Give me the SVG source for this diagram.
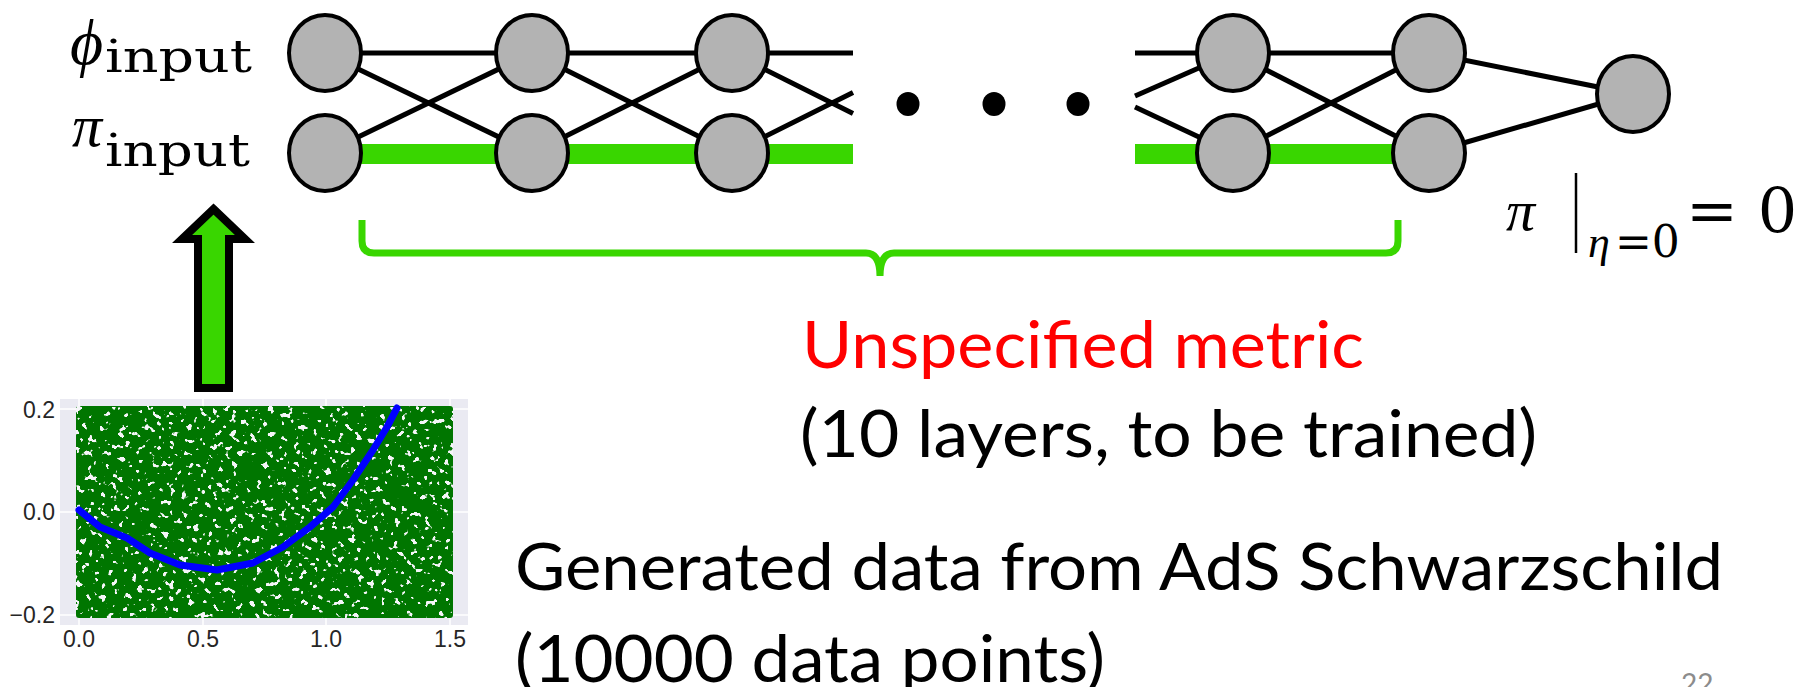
<svg xmlns="http://www.w3.org/2000/svg" width="1798" height="687" viewBox="0 0 1798 687">
<style>
.node{fill:#b3b3b3;stroke:#000;stroke-width:4}
.ln{stroke:#000;stroke-width:5;fill:none}
.gr{stroke:#39d600;stroke-width:20;fill:none}
.math{font-family:"DejaVu Serif","Liberation Serif",serif;fill:#000}
.greek{font-family:"Liberation Serif","DejaVu Serif",serif;font-style:italic;fill:#000}
.cal{font-family:Lato,"Open Sans",sans-serif;font-size:65px}
.tick{font-family:"Liberation Sans",Arial,sans-serif;font-size:23px;fill:#262626}
</style>
<defs>
<filter id="speck" x="0" y="0" width="1" height="1" filterUnits="objectBoundingBox">
<feTurbulence type="fractalNoise" baseFrequency="0.16" numOctaves="2" seed="7"/>
<feColorMatrix type="matrix" values="0 0 0 0 0.918 0 0 0 0 0.918 0 0 0 0 0.949 -22 0 0 0 8.1"/>
</filter>
</defs>
<rect width="1798" height="687" fill="#fff"/>

<g id="connectors">
<line class="ln" x1="325" y1="53" x2="853" y2="53"/>
<line class="ln" x1="1135" y1="53" x2="1429" y2="53"/>
<line class="ln" x1="325" y1="53" x2="532" y2="153"/>
<line class="ln" x1="325" y1="153" x2="532" y2="53"/>
<line class="ln" x1="532" y1="53" x2="732" y2="153"/>
<line class="ln" x1="532" y1="153" x2="732" y2="53"/>
<line class="ln" x1="732" y1="53" x2="853" y2="113.5"/>
<line class="ln" x1="732" y1="153" x2="853" y2="92.5"/>
<line class="ln" x1="1135" y1="96" x2="1233" y2="53"/>
<line class="ln" x1="1135" y1="107" x2="1233" y2="153"/>
<line class="ln" x1="1233" y1="53" x2="1429" y2="153"/>
<line class="ln" x1="1233" y1="153" x2="1429" y2="53"/>
<line class="ln" x1="1429" y1="53" x2="1633" y2="94" stroke-width="6"/>
<line class="ln" x1="1429" y1="153" x2="1633" y2="94" stroke-width="6"/>
<line class="gr" x1="325" y1="154" x2="853" y2="154"/>
<line class="gr" x1="1135" y1="154" x2="1429" y2="154"/>
</g>

<g id="nodes">
<ellipse id="n1a" class="node" cx="325" cy="53" rx="36" ry="38"/>
<ellipse id="n1b" class="node" cx="325" cy="153" rx="36" ry="38"/>
<ellipse id="n2a" class="node" cx="532" cy="53" rx="36" ry="38"/>
<ellipse id="n2b" class="node" cx="532" cy="153" rx="36" ry="38"/>
<ellipse id="n3a" class="node" cx="732" cy="53" rx="36" ry="38"/>
<ellipse id="n3b" class="node" cx="732" cy="153" rx="36" ry="38"/>
<ellipse id="n4a" class="node" cx="1233" cy="53" rx="36" ry="38"/>
<ellipse id="n4b" class="node" cx="1233" cy="153" rx="36" ry="38"/>
<ellipse id="n5a" class="node" cx="1429" cy="53" rx="36" ry="38"/>
<ellipse id="n5b" class="node" cx="1429" cy="153" rx="36" ry="38"/>
<ellipse id="out" class="node" cx="1633" cy="94" rx="36" ry="38"/>
</g>

<g id="ellipsis" fill="#000">
<ellipse cx="908" cy="104" rx="11.5" ry="12"/>
<ellipse cx="994" cy="104" rx="11.5" ry="12"/>
<ellipse cx="1078" cy="104" rx="11.5" ry="12"/>
</g>

<g id="labels">
<text class="greek" x="70" y="64" font-size="64">ϕ</text>
<text class="math" x="105" y="72" font-size="45" textLength="147" lengthAdjust="spacingAndGlyphs">input</text>
<text class="greek" x="72" y="146" font-size="60">π</text>
<text class="math" x="105" y="166" font-size="45" textLength="145" lengthAdjust="spacingAndGlyphs">input</text>
</g>

<g id="boundary">
<text class="greek" x="1506" y="230" font-size="58">π</text>
<line x1="1576" y1="173" x2="1576" y2="253" stroke="#000" stroke-width="2.5"/>
<text class="greek" x="1588" y="257" font-size="44">η</text>
<text class="math" x="1615" y="257" font-size="44">=0</text>
<text class="math" x="1686" y="232" font-size="62">= 0</text>
</g>

<path id="bracket" d="M362,220 L362,241 Q362,253 374,253 L866,253 Q880,253 880,276 Q880,253 894,253 L1386,253 Q1398,253 1398,241 L1398,220" fill="none" stroke="#39d600" stroke-width="7"/>

<path id="arrow" d="M213.5,209 L245,239 L229,239 L229,388 L198,388 L198,239 L182,239 Z" fill="#39d600" stroke="#000" stroke-width="8"/>

<g id="plot">
<rect x="60" y="399" width="408" height="226" fill="#eaeaf2"/>
<g stroke="#fff" stroke-width="1.5">
<line x1="79" y1="399" x2="79" y2="625"/>
<line x1="203" y1="399" x2="203" y2="625"/>
<line x1="326" y1="399" x2="326" y2="625"/>
<line x1="450" y1="399" x2="450" y2="625"/>
<line x1="60" y1="409" x2="468" y2="409"/>
<line x1="60" y1="512" x2="468" y2="512"/>
<line x1="60" y1="615" x2="468" y2="615"/>
</g>
<rect x="76" y="406" width="377" height="212" rx="3" fill="#007600"/>
<rect x="76" y="406" width="377" height="212" fill="#eaeaf2" filter="url(#speck)"/>
<polyline points="79,510 100,527 127,538 150,553 180,565 217,570 253,563 283,547 310,527 333,507 353,480 373,450 387,427 397,408" fill="none" stroke="#0000ff" stroke-width="7" stroke-linejoin="round" stroke-linecap="round"/>
<text class="tick" x="55" y="418" text-anchor="end">0.2</text>
<text class="tick" x="55" y="520" text-anchor="end">0.0</text>
<text class="tick" x="55" y="623" text-anchor="end">−0.2</text>
<text class="tick" x="79" y="647" text-anchor="middle">0.0</text>
<text class="tick" x="203" y="647" text-anchor="middle">0.5</text>
<text class="tick" x="326" y="647" text-anchor="middle">1.0</text>
<text class="tick" x="450" y="647" text-anchor="middle">1.5</text>
</g>

<g id="captions">
<text class="cal" x="802" y="368" fill="#ff0000" textLength="562" lengthAdjust="spacingAndGlyphs">Unspecified metric</text>
<text class="cal" x="800" y="457" fill="#000" textLength="737" lengthAdjust="spacingAndGlyphs">(10 layers, to be trained)</text>
<text class="cal" x="515" y="590" fill="#000" textLength="1208" lengthAdjust="spacingAndGlyphs">Generated data from AdS Schwarzschild</text>
<text class="cal" x="515" y="682" fill="#000" textLength="590" lengthAdjust="spacingAndGlyphs">(10000 data points)</text>
<text x="1681" y="694" font-family="Lato,'Open Sans',sans-serif" font-size="28" fill="#8c8c8c">22</text>
</g>
</svg>
